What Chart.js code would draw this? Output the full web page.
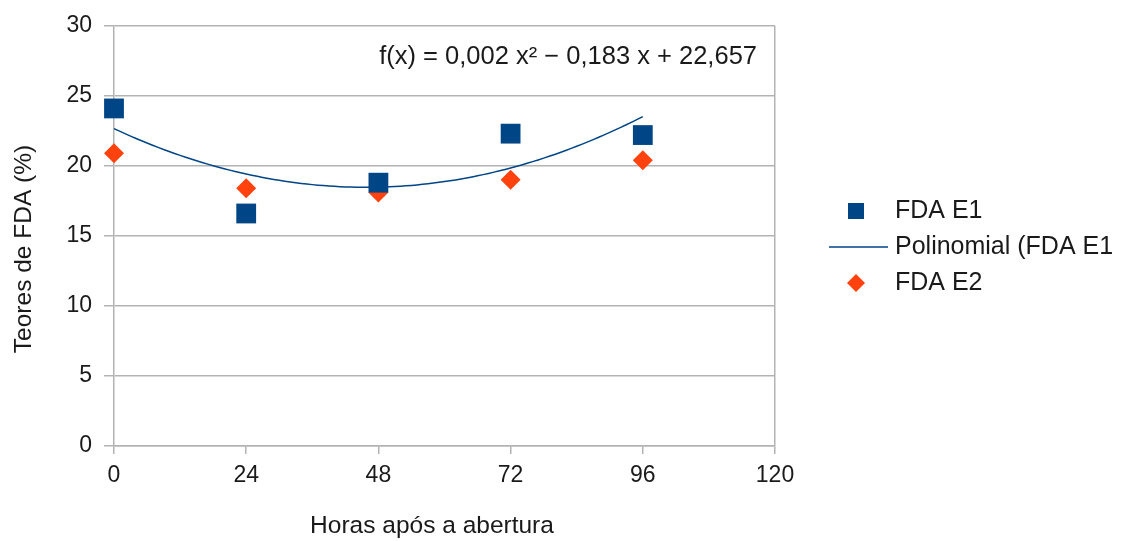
<!DOCTYPE html>
<html>
<head>
<meta charset="utf-8">
<script src="https://cdn.jsdelivr.net/npm/chart.js@4/dist/chart.umd.min.js"></script>
<style>
  html, body { margin: 0; padding: 0; background: #ffffff; }
  #wrap { width: 1131px; height: 541px; }
</style>
</head>
<body>
<div id="wrap"><canvas id="c" width="1131" height="541"></canvas></div>
<script>
// Sampling hours (x axis) and measured FDA contents for the two trials
const hours = [0, 24, 48, 72, 96];
const fdaE1 = [24.1, 16.6, 18.8, 22.3, 22.2];
const fdaE2 = [20.9, 18.4, 18.1, 19.0, 20.4];

// Second-order polynomial trend for FDA E1: a*x^2 + b*x + c
const trendCoef = [0.002, -0.183, 22.657];
const trendLabel = 'f(x) = 0,002 x² − 0,183 x + 22,657';

// Axis ranges and tick steps
const xTicks = [0, 24, 48, 72, 96, 120];
const yTicks = [0, 5, 10, 15, 20, 25, 30];

const seriesNames = ['FDA E1', 'Polinomial (FDA E1', 'FDA E2'];
const axisTitles = { x: 'Horas após a abertura', y: 'Teores de FDA (%)' };

const BLUE = '#004586';
const ORANGE = '#ff420e';
const GRID = '#b3b3b3';
const TEXT = '#1a1a1a';
const FONT = 'Liberation Sans, Arial, sans-serif';

const pts = (xs, ys) => xs.map((x, i) => ({ x: x, y: ys[i] }));

// Trend curve evaluated over the sampled range of hours
const trendPts = [];
for (let h = hours[0]; h <= hours[hours.length - 1]; h += 1) {
  trendPts.push({ x: h, y: trendCoef[0] * h * h + trendCoef[1] * h + trendCoef[2] });
}

// Legend, axis titles and equation drawn on top of the chart
const overlay = {
  id: 'overlay',
  afterDraw(chart) {
    const ctx = chart.ctx;
    ctx.save();
    ctx.fillStyle = TEXT;
    ctx.textBaseline = 'middle';

    // equation of the trend
    ctx.font = '25.5px ' + FONT;
    ctx.textAlign = 'right';
    ctx.fillText(trendLabel, 757, 57);

    // axis titles
    ctx.font = '24.5px ' + FONT;
    ctx.textAlign = 'center';
    ctx.fillText(axisTitles.x, 432, 526);
    ctx.save();
    ctx.translate(24, 249);
    ctx.rotate(-Math.PI / 2);
    ctx.fillText(axisTitles.y, 0, 0);
    ctx.restore();

    // legend
    ctx.font = '25px ' + FONT;
    const tx = 895;
    const rows = [211, 247, 283];
    ctx.textAlign = 'left';
    ctx.fillText(seriesNames[0], tx, rows[0]);
    ctx.fillText(seriesNames[1], tx, rows[1]);
    ctx.fillText(seriesNames[2], tx, rows[2]);

    ctx.fillStyle = BLUE;
    ctx.fillRect(848, rows[0] - 8, 16, 16);

    ctx.strokeStyle = BLUE;
    ctx.lineWidth = 1.5;
    ctx.beginPath();
    ctx.moveTo(829, rows[1]);
    ctx.lineTo(888, rows[1]);
    ctx.stroke();

    ctx.fillStyle = ORANGE;
    ctx.beginPath();
    ctx.moveTo(856, rows[2] - 9);
    ctx.lineTo(865, rows[2]);
    ctx.lineTo(856, rows[2] + 9);
    ctx.lineTo(847, rows[2]);
    ctx.closePath();
    ctx.fill();
    ctx.restore();
  }
};

Chart.defaults.font.family = FONT;
Chart.defaults.font.size = 23;
Chart.defaults.color = TEXT;

new Chart(document.getElementById('c'), {
  type: 'scatter',
  data: {
    datasets: [
      {
        label: seriesNames[0],
        data: pts(hours, fdaE1),
        pointStyle: 'rect',
        pointRadius: 14,
        pointHoverRadius: 14,
        backgroundColor: BLUE,
        borderColor: BLUE,
        borderWidth: 0,
        clip: false,
        order: 0
      },
      {
        type: 'line',
        label: seriesNames[1],
        data: trendPts,
        borderColor: BLUE,
        borderWidth: 1.5,
        pointRadius: 0,
        fill: false,
        tension: 0,
        clip: false,
        order: 1
      },
      {
        label: seriesNames[2],
        data: pts(hours, fdaE2),
        pointStyle: 'rectRot',
        pointRadius: 10,
        pointHoverRadius: 10,
        backgroundColor: ORANGE,
        borderColor: ORANGE,
        borderWidth: 0,
        clip: false,
        order: 2
      }
    ]
  },
  options: {
    responsive: false,
    animation: false,
    layout: { padding: { left: 0, top: 24, right: 356, bottom: 0 } },
    plugins: {
      legend: { display: false },
      tooltip: { enabled: false }
    },
    scales: {
      x: {
        type: 'linear',
        min: xTicks[0],
        max: xTicks[xTicks.length - 1],
        afterFit(s) { s.height = 95; },
        afterBuildTicks(s) { s.ticks = xTicks.map(v => ({ value: v })); },
        ticks: { padding: 8, maxRotation: 0, autoSkip: false },
        grid: {
          color: c => (c.tick && c.tick.value === xTicks[xTicks.length - 1]) ? GRID : 'rgba(0,0,0,0)',
          tickColor: GRID,
          tickLength: 8,
          lineWidth: 1.5
        },
        border: { color: GRID, width: 1.5 }
      },
      y: {
        min: yTicks[0],
        max: yTicks[yTicks.length - 1],
        afterFit(s) { s.width = 114; },
        afterBuildTicks(s) { s.ticks = yTicks.map(v => ({ value: v })); },
        ticks: { padding: 12 },
        grid: { color: GRID, tickLength: 10, lineWidth: 1.5 },
        border: { color: GRID, width: 1.5 }
      }
    }
  },
  plugins: [overlay]
});
</script>
</body>
</html>
